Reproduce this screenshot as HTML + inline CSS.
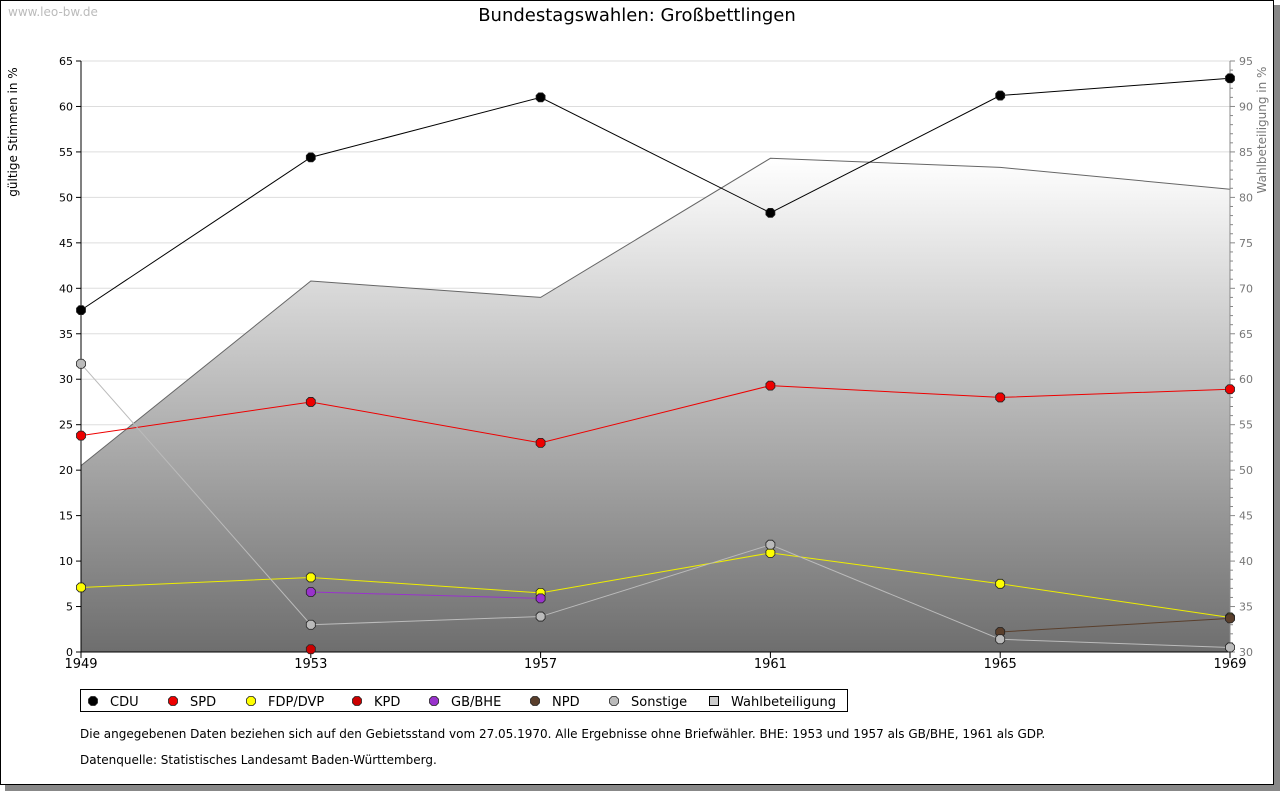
<!DOCTYPE html>
<html><head><meta charset="utf-8"><style>
body{margin:0;background:#fff;width:1280px;height:791px;overflow:hidden;font-family:"Liberation Sans","DejaVu Sans",sans-serif}
</style></head><body>
<svg width="1280" height="791" xmlns="http://www.w3.org/2000/svg" font-family="DejaVu Sans, Liberation Sans, sans-serif">
<defs><linearGradient id="tg" x1="0" y1="0" x2="0" y2="1"><stop offset="0" stop-color="#ffffff"/><stop offset="1" stop-color="#6e6e6e"/></linearGradient></defs>
<rect x="5" y="5" width="1275" height="786" fill="#888"/>
<rect x="0.5" y="0.5" width="1273" height="784" fill="#fff" stroke="#000"/>
<text x="8" y="16" font-size="12" fill="#bbb">www.leo-bw.de</text>
<text x="637" y="21" font-size="18" text-anchor="middle">Bundestagswahlen: Großbettlingen</text>
<text transform="translate(17,132) rotate(-90)" font-size="12" text-anchor="middle">gültige Stimmen in %</text>
<text transform="translate(1266,130) rotate(-90)" font-size="12" fill="#777" text-anchor="middle">Wahlbeteiligung in %</text>
<g id="grid"></g><g id="area"></g><g id="axes"></g><g id="series"></g>
<g><rect x="80.5" y="689.5" width="767" height="22" fill="#fff" stroke="#000"/><g id="legend"></g></g>
<text x="80" y="738" font-size="12">Die angegebenen Daten beziehen sich auf den Gebietsstand vom 27.05.1970. Alle Ergebnisse ohne Briefwähler. BHE: 1953 und 1957 als GB/BHE, 1961 als GDP.</text>
<text x="80" y="764" font-size="12">Datenquelle: Statistisches Landesamt Baden-Württemberg.</text>
</svg>
<script>
const years=[1949,1953,1957,1961,1965,1969];
const yTicks=[0,5,10,15,20,25,30,35,40,45,50,55,60,65];
const y2Ticks=[30,35,40,45,50,55,60,65,70,75,80,85,90,95];
const turnout=[50.5,70.8,69.0,84.3,83.3,80.9];
const cdu=[37.6,54.4,61.0,48.3,61.2,63.1];
const spd=[23.8,27.5,23.0,29.3,28.0,28.9];
const fdp=[7.1,8.2,6.5,10.9,7.5,3.8];
const kpd=[null,0.3,null,null,null,null];
const gbbhe=[null,6.6,5.9,null,null,null];
const npd=[null,null,null,null,2.2,3.7];
const sonst=[31.7,3.0,3.9,11.8,1.4,0.5];
const NS="http://www.w3.org/2000/svg";
const X0=81,X1=1230,Y0=652,Y1=61;
const xs=i=>X0+(X1-X0)*i/(years.length-1);
const ys=v=>Y0-(Y0-Y1)*v/65;
const y2s=v=>Y0-(Y0-Y1)*(v-30)/65;
function mk(t,a,p){const e=document.createElementNS(NS,t);for(const k in a)e.setAttribute(k,a[k]);p.appendChild(e);return e;}
const grid=document.getElementById('grid'),axes=document.getElementById('axes');
yTicks.forEach(v=>{
 if(v>0){const l=mk('line',{x1:X0,x2:X1,y1:ys(v),y2:ys(v),stroke:'#ddd'},grid);
 
 }
 mk('line',{x1:X0-5,x2:X0,y1:ys(v),y2:ys(v),stroke:'#000'},axes);
 const t=mk('text',{x:X0-8,y:ys(v)+4,'font-size':11,'text-anchor':'end'},axes);t.textContent=v;
 
 
});
for(let v=30;v<=95;v++){mk('line',{x1:X1,x2:X1+(v%5?3:5),y1:y2s(v),y2:y2s(v),stroke:'#888'},axes);}
y2Ticks.forEach(v=>{const t=mk('text',{x:X1+9,y:y2s(v)+4,'font-size':11,fill:'#777'},axes);t.textContent=v;
 
 });
mk('line',{x1:X0,x2:X0,y1:Y1,y2:Y0,stroke:'#000'},axes);
mk('line',{x1:X1,x2:X1,y1:Y1,y2:Y0,stroke:'#888'},axes);
mk('line',{x1:X0,x2:X1,y1:Y0,y2:Y0,stroke:'#000'},axes);
years.forEach((y,i)=>{mk('line',{x1:xs(i),x2:xs(i),y1:Y0,y2:Y0+6,stroke:'#000'},axes);
 const t=mk('text',{x:xs(i),y:Y0+16,'font-size':13,'text-anchor':'middle'},axes);t.textContent=y;
 
 });
const area=document.getElementById('area');
let d='M'+X0+','+Y0;turnout.forEach((v,i)=>d+=' L'+xs(i)+','+y2s(v));d+=' L'+X1+','+Y0+'Z';
const ap=mk('path',{d:d,fill:'url(#tg)'},area);


const tl=mk('polyline',{points:turnout.map((v,i)=>xs(i)+','+y2s(v)).join(' '),fill:'none',stroke:'#666'},area);


const series=[['CDU',cdu,'#000','#000'],['SPD',spd,'#e00','#e00'],['FDP/DVP',fdp,'#ee0','#ff0'],['KPD',kpd,'#b00','#c00'],['GB/BHE',gbbhe,'#93c','#93c'],['NPD',npd,'#5a3f2c','#5a3f2c'],['Sonstige',sonst,'#bbb','#bbb']];
const sg=document.getElementById('series');
function dia(x,y,c,p){return mk('path',{d:`M${x-2},${y-4.5}L${x+2},${y-4.5}L${x+4.5},${y-2}L${x+4.5},${y+2}L${x+2},${y+4.5}L${x-2},${y+4.5}L${x-4.5},${y+2}L${x-4.5},${y-2}Z`,fill:c,stroke:'#222','stroke-width':0.8},p);}
series.forEach(([n,vals,lc,fc])=>{
 const g=mk('g',{},sg);
 
 
 const pts=[];vals.forEach((v,i)=>{if(v!=null)pts.push(xs(i)+','+ys(v));});
 if(pts.length>1)mk('polyline',{points:pts.join(' '),fill:'none',stroke:lc},g);
 vals.forEach((v,i)=>{if(v!=null){const m=dia(xs(i),ys(v),fc,g);
 
 }});
});
const lg=document.getElementById('legend');
const lx=[93,173,251,357,434,535,614,714];
series.concat([['Wahlbeteiligung',null,'','#ccc']]).forEach(([n,,,fc],i)=>{
 const g=mk('g',{},lg);
 
 
 if(n==='Wahlbeteiligung')mk('rect',{x:lx[i]-4.5,y:696.5,width:9,height:9,fill:'#ccc',stroke:'#000'},g);
 else dia(lx[i],701,fc,g);
 const t=mk('text',{x:lx[i]+17,y:706,'font-size':13},g);t.textContent=n;
});
</script>
</body></html>
